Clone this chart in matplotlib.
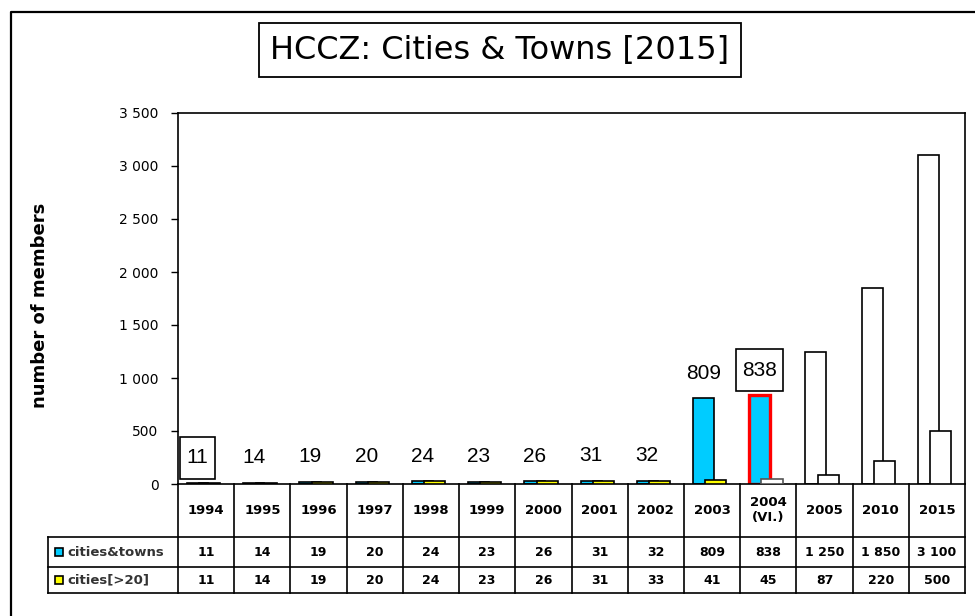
import numpy as np
import matplotlib
matplotlib.use("Agg")
import matplotlib.pyplot as plt
import matplotlib.transforms as mtransforms
from matplotlib.lines import Line2D
from matplotlib.patches import Rectangle

# data
years = ["1994", "1995", "1996", "1997", "1998", "1999", "2000",
         "2001", "2002", "2003", "2004\n(VI.)", "2005", "2010", "2015"]
towns = [11, 14, 19, 20, 24, 23, 26, 31, 32, 809, 838, 1250, 1850, 3100]
cities = [11, 14, 19, 20, 24, 23, 26, 31, 33, 41, 45, 87, 220, 500]
n_actual = 11          # 2005 onwards are targets (empty bars)
highlight = 10         # 2004 (VI.)
boxed_labels = [0, 10]
series_names = ["cities&towns", "cities[>20]"]

CYAN = "#00CCFF"
YELLOW = "#FFFF00"

W, H = 975, 616
def fx(px):
    return px / W
def fy(py):
    return 1 - py / H

fig = plt.figure(figsize=(W / 100, H / 100), dpi=100)
ax = fig.add_axes([fx(178), fy(484), fx(965) - fx(178), fy(113) - fy(484)])

x = np.arange(len(years))
bw = 0.375
off1, off2 = -0.152, 0.067

town_fc = [CYAN if i < n_actual else "white" for i in range(len(years))]
town_ec = ["red" if i == highlight else "black" for i in range(len(years))]
town_lw = [2.4 if i == highlight else 1.2 for i in range(len(years))]
city_fc = [YELLOW if i < highlight else "white" for i in range(len(years))]
city_ec = ["#555555" if i == highlight else "black" for i in range(len(years))]

ax.bar(x + off1, towns, bw, color=town_fc, edgecolor=town_ec, linewidth=town_lw, zorder=2)
ax.bar(x + off2, cities, bw, color=city_fc, edgecolor=city_ec, linewidth=1.2, zorder=3)

for i in range(n_actual):
    bbox = None
    if i in boxed_labels:
        bbox = dict(boxstyle="square,pad=0.3", fc="white", ec="black", lw=1.2,
                    mutation_aspect=1.8)
    ax.annotate(str(towns[i]), (x[i] + off1, towns[i]), xytext=(0, 18),
                textcoords="offset points", ha="center", va="center",
                fontsize=15, family="Liberation Sans", bbox=bbox, zorder=4)

ax.set_xlim(-0.5, len(years) - 0.5)
ax.set_ylim(0, 3500)
ax.set_xticks([])
ax.set_yticks(range(0, 3501, 500))
ax.set_yticklabels([f"{v:,}".replace(",", " ") for v in range(0, 3501, 500)])
ax.tick_params(axis="y", direction="out", length=5, width=1, labelsize=10, pad=9)
for s in ax.spines.values():
    s.set_linewidth(1.2)

fig.text(fx(40), fy(305), "number of members", rotation=90, ha="center", va="center",
         fontsize=13, fontweight="bold")

# title
fig.text(fx(500), fy(50), "HCCZ: Cities & Towns [2015]", ha="center", va="center",
         fontsize=23, bbox=dict(boxstyle="square,pad=0.35", fc="white", ec="black", lw=1.3))

# outer frame (left and top edges)
fig.add_artist(Line2D([fx(11), fx(11), 1], [0, fy(12), fy(12)], color="black", lw=1.6))

# data table under the axis
tr = mtransforms.blended_transform_factory(ax.transData, fig.transFigure)
row_y = [537, 567, 593]
for k in range(len(years) + 1):
    fig.add_artist(Line2D([k - 0.5, k - 0.5], [fy(484), fy(593)], transform=tr,
                          color="black", lw=1.2))
for yy in row_y:
    fig.add_artist(Line2D([fx(48), fx(965)], [fy(yy), fy(yy)], color="black", lw=1.2))
fig.add_artist(Line2D([fx(48), fx(48)], [fy(537), fy(593)], color="black", lw=1.2))

for i, yr in enumerate(years):
    fig.text(x[i], fy(510), yr, transform=tr, ha="center", va="center",
             fontsize=9.5, fontweight="bold", linespacing=1.3)
    fig.text(x[i], fy(552), f"{towns[i]:,}".replace(",", " "), transform=tr,
             ha="center", va="center", fontsize=9, fontweight="bold")
    fig.text(x[i], fy(580), f"{cities[i]:,}".replace(",", " "), transform=tr,
             ha="center", va="center", fontsize=9, fontweight="bold")

for name, color, yy in zip(series_names, [CYAN, YELLOW], [552, 580]):
    fig.add_artist(Rectangle((fx(55), fy(yy + 4)), 8 / W, 8 / H, fc=color, ec="black",
                             lw=1.2, transform=fig.transFigure))
    fig.text(fx(67), fy(yy), name, ha="left", va="center", fontsize=9.5,
             fontweight="bold", color="#333333")

fig.savefig("out.png", dpi=100)
